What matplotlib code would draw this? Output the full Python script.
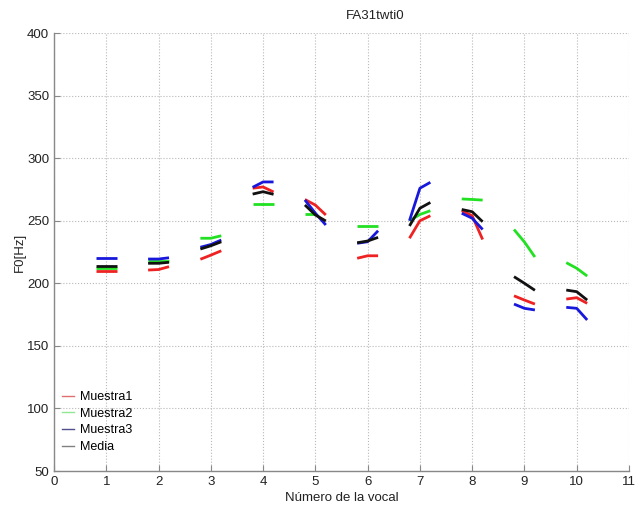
"""F0 por vocal: tres muestras y su media."""
import matplotlib
matplotlib.use('Agg')
import matplotlib.pyplot as plt
import numpy as np
from matplotlib.lines import Line2D

vocales = np.arange(1, 11)
offsets = [-0.2, 0.0, 0.2]

muestra1 = [
    [210, 210, 210], [210.6, 211, 213.3], [219.2, 222.5, 226], [276, 277, 273],
    [267, 262.5, 254.6], [220, 222, 222], [236, 250, 254], [258, 254, 235],
    [190, 186.6, 183.4], [187.4, 188.5, 184],
]
muestra2 = [
    [212, 212, 212], [218, 218, 218], [236, 236, 238], [263, 263, 263],
    [255, 255, np.nan], [246, 246, 246], [250, 255, 258], [267.4, 267, 266.5],
    [243, 233, 221], [216.5, 212, 205.8],
]
muestra3 = [
    [220.4, 220.4, 220.4], [219.4, 219.4, 220.4], [228.8, 231, 234.6], [276.7, 281, 281],
    [266.6, 256, 246.6], [232, 233.2, 242], [250, 276, 280.7], [256, 252, 243],
    [183.4, 180, 178.7], [180.8, 180, 170.7],
]
media = [
    [213.8, 213.8, 213.8], [216, 216, 216.8], [227.4, 230, 233.2], [271.3, 273.2, 271.1],
    [262.6, 254.6, 249.8], [232.4, 233.8, 236.7], [245.8, 260, 264.6], [259, 257.2, 249.2],
    [205.3, 200, 194.4], [194.6, 193.3, 186.6],
]

series = [
    ('Muestra1', muestra1, '#ee2222', '#e07070'),
    ('Muestra2', muestra2, '#22e022', '#90e890'),
    ('Muestra3', muestra3, '#1818dd', '#505090'),
    ('Media', media, '#111111', '#808080'),
]

plt.rcParams['font.family'] = ['Liberation Sans', 'DejaVu Sans']

fig = plt.figure(figsize=(6.4, 5.05), dpi=100)
ax = fig.add_axes([0.0844, 0.0673, 0.8984, 0.8673])

handles = []
for name, vals, color, leg_color in series:
    for v, seg in zip(vocales, vals):
        ax.plot(v + np.array(offsets), seg, color=color, lw=2.0, solid_capstyle='butt')
    handles.append(Line2D([], [], color=leg_color, lw=1.0, label=name))

ax.set_xlim(0, 11)
ax.set_ylim(50, 400)
ax.set_xticks(range(0, 12))
ax.set_yticks(range(50, 401, 50))
ax.grid(True, linestyle=':', color='#b8b8b8', lw=0.8)
ax.set_axisbelow(True)

for side in ('top', 'right'):
    ax.spines[side].set_visible(False)
for side in ('left', 'bottom'):
    ax.spines[side].set_color('#888888')
    ax.spines[side].set_linewidth(1.0)
ax.tick_params(direction='in', length=4, color='#888888', labelsize=9.5, labelcolor='#222222')

ax.set_xlabel('Número de la vocal', fontsize=9.5, color='#222222', labelpad=3)
ax.set_ylabel('F0[Hz]', fontsize=9.5, color='#222222', labelpad=1)
fig.text(0.586, 0.968, 'FA31twti0', ha='center', va='center', fontsize=9.5, color='#222222')

ax.legend(handles=handles, loc='upper left', bbox_to_anchor=(0.0, 0.2), frameon=False,
          fontsize=9, handlelength=1.0, handletextpad=0.5, labelspacing=0.38,
          borderaxespad=0.2)

fig.savefig('out.png', dpi=100)
